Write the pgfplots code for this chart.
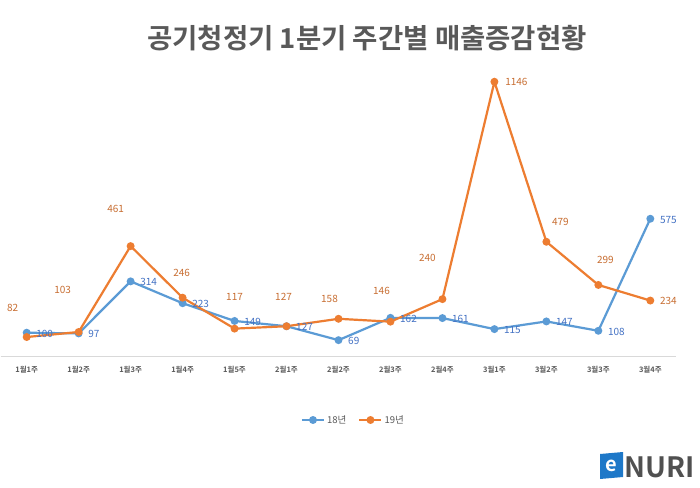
\documentclass[border=0pt]{standalone}
\usepackage{pgfplots}
\pgfplotsset{compat=1.18}
\usepackage{pgfplotstable}
\usepackage{fontspec}
\setmainfont{Noto Sans CJK KR}[BoldFont={Noto Sans CJK KR Bold}]
\definecolor{bl}{RGB}{91,155,213}
\definecolor{orn}{RGB}{237,125,49}
\definecolor{bltxt}{RGB}{68,114,196}
\definecolor{orntxt}{RGB}{200,110,50}
\definecolor{txtgray}{RGB}{89,89,89}
\definecolor{axgray}{RGB}{217,217,217}
\definecolor{logoblue}{RGB}{30,120,200}

\pgfplotstableread{
x y
0 100
1 97
2 314
3 223
4 149
5 127
6 69
7 162
8 161
9 115
10 147
11 108
12 575
}\blue

\pgfplotstableread{
x y dx dy
0 82 -14 29
1 103 -16 42
2 461 -15 37
3 246 -1 25
4 117 0 32
5 127 -3 29
6 158 -9 20
7 146 -9 31
8 240 -15 41
9 1146 22 0
10 479 14 20
11 299 7 25
12 234 18 0
}\orange

\begin{document}
\begin{tikzpicture}[x=1pt,y=1pt]
\useasboundingbox (0,0) rectangle (700,487);
\fill[white] (0,0) rectangle (700,487);
\begin{axis}[
  at={(0.7pt,130.3pt)}, anchor=south west,
  scale only axis, width=675.6pt, height=287.9pt,
  xmin=-0.5, xmax=12.5, ymin=0, ymax=1200,
  axis y line=none, axis x line*=bottom,
  x axis line style={draw=axgray, line width=1pt},
  xtick={0,...,12},
  xticklabels={1월1주,1월2주,1월3주,1월4주,1월5주,2월1주,2월2주,2월3주,2월4주,3월1주,3월2주,3월3주,3월4주},
  major tick length=0pt,
  xticklabel style={font=\bfseries\fontsize{7.5}{8}\selectfont, text=txtgray, anchor=center, yshift=-13.3pt},
  clip=false,
  legend columns=2,
  legend style={at={(rel axis cs:0.522,0)}, yshift=-63.3pt, anchor=center, draw=none,
    font=\fontsize{9.5}{10}\selectfont, text=txtgray,
    /tikz/every even column/.append style={column sep=10pt}},
  legend image code/.code={\draw[#1,mark repeat=2,mark phase=2] plot coordinates {(0pt,0pt)(11pt,0pt)(22pt,0pt)};},
]
\addplot[bl, line width=2.2pt, mark=*, mark size=2.8pt, mark options={solid}] table[x=x,y=y] {\blue};
\addlegendentry{18년}
\addplot[orn, line width=2.2pt, mark=*, mark size=2.8pt, mark options={solid},
  point meta=explicit symbolic,
  visualization depends on={\thisrow{dx} \as \dx},
  visualization depends on={\thisrow{dy} \as \dy},
  nodes near coords,
  every node near coord/.append style={anchor=center, inner sep=0pt, text=orntxt, font=\fontsize{10}{11}\selectfont, xshift=\dx, yshift=\dy},
] table[x=x,y=y,meta=y] {\orange};
\addlegendentry{19년}
\addplot[draw=none, mark=none, forget plot,
  point meta=explicit symbolic,
  nodes near coords,
  every node near coord/.append style={anchor=west, inner sep=0pt, text=bltxt, font=\fontsize{10}{11}\selectfont, xshift=9.5pt, yshift=-1pt},
] table[x=x,y=y,meta=y] {\blue};
\end{axis}
\node[text=txtgray, font=\bfseries\fontsize{27.5}{30}\selectfont] at (367,448.5) {공기청정기 1분기 주간별 매출증감현황};
% logo
\fill[logoblue] (600,8) -- (623,10) -- (623,35) -- (600,33) -- cycle;
\node[text=white, font=\bfseries\fontsize{20}{20}\selectfont, inner sep=0pt] at (611.5,21) {e};
\node[text=txtgray!90!black, font=\bfseries\fontsize{28}{28}\selectfont, inner sep=0pt, anchor=west] at (624,20) {NURI};
\end{tikzpicture}
\end{document}
